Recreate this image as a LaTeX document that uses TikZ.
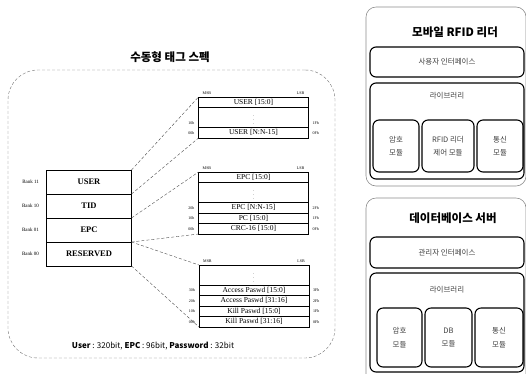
\documentclass[tikz,border=0pt]{standalone}
\usepackage{fontspec}
\newfontfamily\kr{Noto Sans CJK KR}
\newfontfamily\tms{Liberation Serif}
\usetikzlibrary{positioning}

\begin{document}
\begin{tikzpicture}[
    x=1pt, y=-1pt,
    node distance=0pt,
    frame/.style={draw=black!55, densely dashed, line width=0.4pt, rounded corners=30pt},
    panel/.style={draw=black!45, line width=0.6pt, rounded corners=10pt},
    title/.style={font=\kr\bfseries\fontsize{11.5}{11.5}\selectfont},
    bank/.style={draw, line width=0.9pt, minimum width=85pt, minimum height=24pt, outer sep=0pt, font=\tms\bfseries\fontsize{8.5}{8.5}\selectfont},
    banklabel/.style={font=\tms\fontsize{5}{5}\selectfont},
    row/.style={draw, line width=1pt, minimum width=110pt, minimum height=10.5pt, inner sep=0pt, outer sep=0pt, font=\tms\fontsize{7.5}{7.5}\selectfont},
    dotrow/.style={row, minimum height=20pt, font=\fontsize{5}{5}\selectfont},
    addr/.style={font=\tms\fontsize{4}{4}\selectfont, inner sep=1pt},
    link/.style={densely dashed, line width=0.4pt, black!70},
    ibox/.style={draw, line width=1.1pt, rounded corners=6pt, outer sep=0pt, align=center, text=black!75, font=\kr\fontsize{7.5}{13.5}\selectfont},
    iboxlabel/.style={text=black!75, font=\kr\fontsize{7.5}{7.5}\selectfont}
  ]
  \useasboundingbox (0,0) rectangle (526,373);

  % --- TAG SPEC ---
  \node[frame, minimum width=327pt, minimum height=288pt] (tagframe) at (171.5,214) {};
  \node[title] (tagtitle) at (170,57) {수동형 태그 스펙};

  \node[bank] (user) at (89,182) {USER};
  \node[bank, below=of user] (tid) {TID};
  \node[bank, below=of tid] (epc) {EPC};
  \node[bank, below=of epc] (rsvd) {RESERVED};
  \node[banklabel, left=4pt of user] {Bank 11};
  \node[banklabel, left=4pt of tid] {Bank 10};
  \node[banklabel, left=4pt of epc] {Bank 01};
  \node[banklabel, left=4pt of rsvd] {Bank 00};

  % user map
  \node[row] (u1) at (253.5,102.25) {USER [15:0]};
  \node[dotrow, below=of u1] (udots) {$\vdots$};
  \node[row, below=of udots] (u2) {USER [N:N-15]};

  % epc map
  \node[row] (e1) at (253.5,177.25) {EPC [15:0]};
  \node[dotrow, below=of e1] (edots) {$\vdots$};
  \node[row, below=of edots] (e2) {EPC [N:N-15]};
  \node[row, below=of e2] (pc) {PC [15:0]};
  \node[row, below=of pc] (crc) {CRC-16 [15:0]};

  % reserved map
  \node[dotrow] (r0) at (254,275) {$\vdots$};
  \node[row, below=of r0] (r1) {Access Paswd [15:0]};
  \node[row, below=of r1] (r2) {Access Paswd [31:16]};
  \node[row, below=of r2] (r3) {Kill Paswd [15:0]};
  \node[row, below=of r3] (r4) {Kill Paswd [31:16]};

  % MSB / LSB
  \foreach \m in {u1, e1, r0} {
    \node[addr, above right=1pt and 3pt of \m.north west] {MSB};
    \node[addr, above left=1pt and 3pt of \m.north east] {LSB};
  }

  % addresses
  \node[addr, left=3pt of udots.south west, yshift=4pt] {10h};
  \node[addr, right=3pt of udots.south east, yshift=4pt] {1Fh};
  \foreach \m/\a/\b in {u2/00h/0Fh, e2/20h/2Fh, pc/10h/1Fh, crc/00h/0Fh,
                        r1/30h/3Fh, r2/20h/2Fh, r3/10h/1Fh, r4/00h/0Fh} {
    \node[addr, left=3pt of \m] {\a};
    \node[addr, right=3pt of \m] {\b};
  }

  % bank to map
  \draw[link] (user.north east) -- (u1.north west);
  \draw[link] (user.south east) -- (u2.south west);
  \draw[link] (epc.north east) -- (e1.north west);
  \draw[link] (epc.south east) -- (crc.south west);
  \draw[link] (rsvd.north east) -- (r0.north west);
  \draw[link] (rsvd.south east) -- (r4.south west);

  \node[font=\kr\fontsize{8}{8}\selectfont] (note) at (153,346)
    {\textbf{User} : 320bit, \textbf{EPC} : 96bit, \textbf{Password} : 32bit};

  % --- MOBILE RFID READER ---
  \node[panel, minimum width=160pt, minimum height=179pt] (readerframe) at (446,96.5) {};
  \node[title] (readertitle) at (455,32) {모바일 RFID 리더};
  \node[ibox, minimum width=154pt, minimum height=30pt] (readerui) at (447,62) {사용자 인터페이스};
  \node[ibox, minimum width=154pt, minimum height=96pt] (readerlib) at (447,131) {};
  \node[iboxlabel, below=6pt of readerlib.north] {라이브러리};
  \node[ibox, minimum width=46pt, minimum height=52pt] (rcrypto) at (396,146) {암호\\모듈};
  \node[ibox, minimum width=52pt, minimum height=52pt, right=3pt of rcrypto] (rctrl) {RFID 리더\\제어 모듈};
  \node[ibox, minimum width=46pt, minimum height=52pt, right=3pt of rctrl] (rcomm) {통신\\모듈};

  % --- DATABASE SERVER ---
  \node[panel, minimum width=160pt, minimum height=190pt] (dbframe) at (446,293) {};
  \node[title] (dbtitle) at (453,218) {데이터베이스 서버};
  \node[ibox, minimum width=154pt, minimum height=31pt] (dbui) at (447,252.5) {관리자 인터페이스};
  \node[ibox, minimum width=154pt, minimum height=99pt] (dblib) at (447,322.5) {};
  \node[iboxlabel, below=10pt of dblib.north] {라이브러리};
  \node[ibox, minimum width=45pt, minimum height=59pt] (dcrypto) at (399.5,337.5) {암호\\모듈};
  \node[ibox, minimum width=47pt, minimum height=59pt, right=3pt of dcrypto] (ddb) {DB\\모듈};
  \node[ibox, minimum width=48pt, minimum height=59pt, right=3pt of ddb] (dcomm) {통신\\모듈};

\end{tikzpicture}
\end{document}
